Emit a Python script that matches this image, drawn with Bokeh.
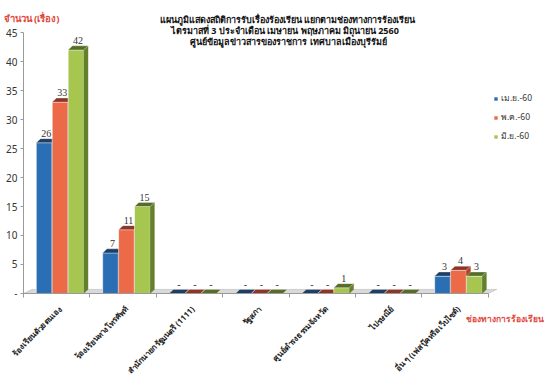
from bokeh.plotting import figure
from bokeh.models import (Range1d, FixedTicker, Label, LabelSet, ColumnDataSource,
                          Legend, LegendItem)
from bokeh.embed import file_html
from bokeh.resources import INLINE

categories = ["ร้องเรียนด้วยตนเอง", "ร้องเรียนทางโทรศัพท์", "สำนักนายกรัฐมนตรี (1111)",
              "รัฐสภา", "ศูนย์ดำรงธรรมจังหวัด", "ไปรษณีย์", "อื่น ๆ (เฟสบุ๊คหรือเว็บไซต์)"]
series_names = ["เม.ย.-60", "พ.ค.-60", "มิ.ย.-60"]
apr = [26, 7, 0, 0, 0, 0, 3]
may = [33, 11, 0, 0, 0, 0, 4]
jun = [42, 15, 0, 0, 1, 0, 3]
y_ticks = [0, 5, 10, 15, 20, 25, 30, 35, 40, 45]
title_lines = ["แผนภูมิแสดงสถิติการรับเรื่องร้องเรียน  แยกตามช่องทางการร้องเรียน",
               "ไตรมาสที่  3  ประจำเดือน เมษายน  พฤษภาคม มิถุนายน 2560",
               "ศูนย์ข้อมูลข่าวสารของราชการ เทศบาลเมืองบุรีรัมย์"]
y_title = "จำนวน (เรื่อง)"
x_title = "ช่องทางการร้องเรียน"

FONT = "Noto Sans"
front = ["#2a6fb3", "#ec6a48", "#a7c650"]
side = ["#1a4775", "#b0432a", "#64802c"]
top = ["#1c3f63", "#8e3526", "#566d27"]

offsets = [0.31, 0.55, 0.79]
bw = 0.235
dx = 0.065
dy = 0.7

n = len(categories)
ymax = y_ticks[-1]

p = figure(width=546, height=375, output_backend="svg", toolbar_location=None,
           x_range=Range1d(-0.346, 7.877), y_range=Range1d(-14.14, 50.52),
           min_border=0, min_border_left=0, min_border_right=0,
           min_border_top=0, min_border_bottom=0)
p.outline_line_color = None
p.xgrid.visible = False
p.ygrid.visible = False
p.background_fill_color = None
p.border_fill_color = None

# floor
p.patch([0, 0 + dx * 2, n + dx * 2, n], [0, dy, dy, 0], fill_color="#d9d9d9",
        line_color="#b0b0b0", line_width=0.5)

legend_items = []
for s, vals in enumerate([apr, may, jun]):
    xc = [i + offsets[s] for i in range(n)]
    r = p.vbar(x=xc, top=vals, width=bw, bottom=0, fill_color=front[s],
               line_color="white", line_width=0.6)
    legend_items.append(LegendItem(label=series_names[s], renderers=[r]))
    xs_side, ys_side, xs_top, ys_top = [], [], [], []
    for x, v in zip(xc, vals):
        xl, xr = x - bw / 2, x + bw / 2
        if v > 0:
            xs_side.append([xr, xr + dx, xr + dx, xr])
            ys_side.append([0, dy, v + dy, v])
        xs_top.append([xl, xl + dx, xr + dx, xr])
        ys_top.append([v, v + dy, v + dy, v])
    if xs_side:
        p.patches(xs_side, ys_side, fill_color=side[s], line_color=side[s], line_width=0.3)
    p.patches(xs_top, ys_top, fill_color=top[s],
              line_color="white", line_width=0.3)
    src = ColumnDataSource(dict(x=[x + dx / 2 for x in xc],
                                y=[v + dy + 0.3 for v in vals],
                                t=[str(v) if v > 0 else "-" for v in vals]))
    p.add_layout(LabelSet(x="x", y="y", text="t", source=src, text_align="center",
                          text_baseline="bottom", text_font=FONT,
                          text_font_size="10px", text_color="#333333"))

# axes (fixed at data zero so the frame can hold the outside texts)
p.yaxis.fixed_location = 0
p.yaxis.bounds = (0, ymax)
p.yaxis.ticker = FixedTicker(ticks=y_ticks)
p.yaxis.major_label_overrides = {0: "-"}
p.yaxis.major_label_text_font = FONT
p.yaxis.major_label_text_font_size = "10px"
p.yaxis.major_label_text_color = "#333333"
p.yaxis.axis_line_color = "#9a9a9a"
p.yaxis.major_tick_line_color = "#9a9a9a"
p.yaxis.major_tick_out = 3
p.yaxis.major_tick_in = 0
p.yaxis.minor_tick_line_color = None
p.yaxis.major_label_standoff = 3

bounds_ticks = list(range(n + 1))
p.xaxis.fixed_location = 0
p.xaxis.bounds = (0, n)
p.xaxis.ticker = FixedTicker(ticks=bounds_ticks)
p.xaxis.major_label_overrides = {t: "" for t in bounds_ticks}
p.xaxis.major_tick_line_color = "#9a9a9a"
p.xaxis.major_tick_out = 4
p.xaxis.major_tick_in = 0
p.xaxis.minor_tick_line_color = None
p.xaxis.axis_line_color = "#9a9a9a"

# category labels, rotated, ending under each category centre
for i, name in enumerate(categories):
    p.add_layout(Label(x=i + 0.55, y=-2.4, text=name, angle=0.785398,
                       text_align="right", text_baseline="middle", text_font=FONT,
                       text_font_size="8px", text_font_style="bold",
                       text_color="#222222"))

# title lines
for line, yy in zip(title_lines, [47.24, 45.34, 43.45]):
    p.add_layout(Label(x=3.99, y=yy, text=line, text_align="center",
                       text_baseline="middle", text_font=FONT,
                       text_font_size="9px", text_font_style="bold",
                       text_color="#111111"))

p.add_layout(Label(x=-0.30, y=47.4, text=y_title, text_align="left",
                   text_baseline="middle", text_font=FONT, text_font_size="9.5px",
                   text_font_style="bold", text_color="#e0473a"))
p.add_layout(Label(x=7.84, y=-4.31, text=x_title, text_align="right",
                   text_baseline="middle", text_font=FONT, text_font_size="8.5px",
                   text_font_style="bold", text_color="#e0473a"))

legend = Legend(items=legend_items, location=(493, 232), orientation="vertical",
                label_text_font=FONT, label_text_font_size="8.5px",
                label_text_color="#333333", glyph_width=5, glyph_height=5,
                label_height=12, spacing=5, label_standoff=3, padding=0, margin=0,
                border_line_color=None, background_fill_alpha=0)
p.add_layout(legend)

open("out.html", "w").write(file_html(p, INLINE))
